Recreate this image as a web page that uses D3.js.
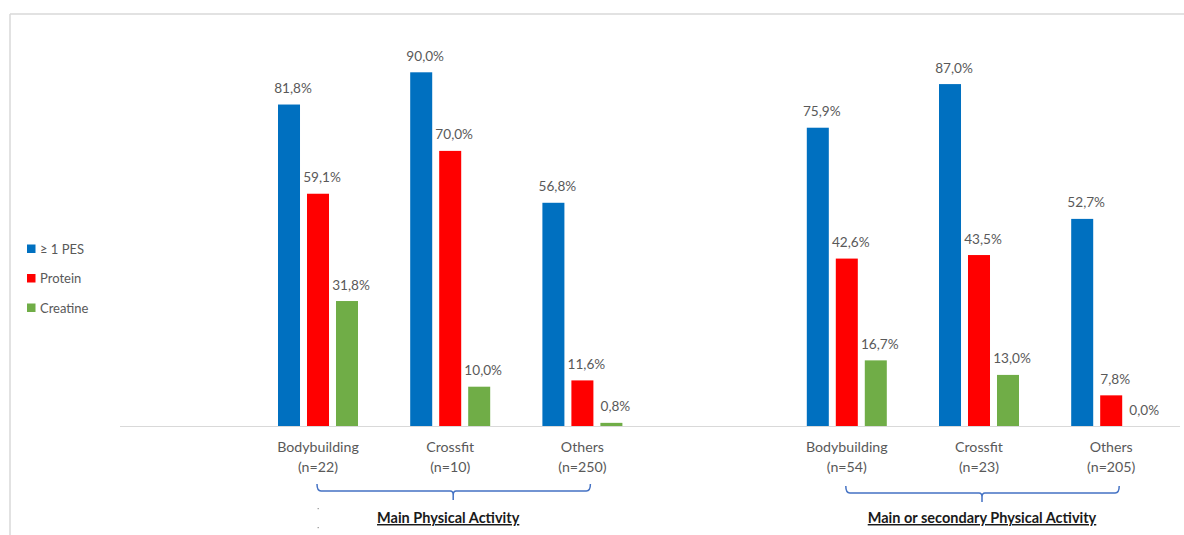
<!DOCTYPE html>
<html>
<head>
<meta charset="utf-8">
<script src="https://cdn.jsdelivr.net/npm/d3@7"></script>
<style>
  html, body { margin: 0; padding: 0; background: #ffffff; }
  svg { display: block; }
  text { font-family: Lato, "Open Sans", sans-serif; }
</style>
</head>
<body>
<svg id="chart" width="1184" height="535"></svg>
<script>
// ---- data ----
const groups = ["Main Physical Activity", "Main or secondary Physical Activity"];
const categories = ["Bodybuilding", "Crossfit", "Others"];
const sampleSizes = [[22, 10, 250], [54, 23, 205]];
const series = ["≥ 1 PES", "Protein", "Creatine"];
const pesValues = [81.8, 90.0, 56.8, 75.9, 87.0, 52.7];
const proteinValues = [59.1, 70.0, 11.6, 42.6, 43.5, 7.8];
const creatineValues = [31.8, 10.0, 0.8, 16.7, 13.0, 0.0];
const colors = ["#0070c0", "#ff0000", "#70ad47"];

const seriesValues = [pesValues, proteinValues, creatineValues];

// slots: a blank slot before each group, then its three categories
const slots = [];
const rows = [];
groups.forEach((g, gi) => {
  slots.push("blank" + gi);
  categories.forEach((c, ci) => {
    const key = gi + "-" + ci;
    slots.push(key);
    rows.push({ key, group: gi, cat: c, n: sampleSizes[gi][ci], idx: gi * 3 + ci });
  });
});

const svg = d3.select("#chart");

// frame lines
svg.append("line").attr("x1", 10).attr("x2", 1184).attr("y1", 14).attr("y2", 14)
  .attr("stroke", "#d9d9d9").attr("stroke-width", 1.5);
svg.append("line").attr("x1", 10).attr("x2", 10).attr("y1", 14).attr("y2", 535)
  .attr("stroke", "#d9d9d9").attr("stroke-width", 1.5);

const x = d3.scaleBand().domain(slots).range([120, 1177.6]).padding(0);
const xs = d3.scaleBand().domain(series).range([25.8, 105.8]).paddingInner(0.241).paddingOuter(0);
const y = d3.scaleLinear().domain([0, 100]).range([426, 33]);

// bars
const gCat = svg.selectAll("g.cat").data(rows).join("g")
  .attr("class", "cat")
  .attr("transform", d => `translate(${x(d.key)},0)`);

series.forEach((s, si) => {
  gCat.append("rect")
    .attr("x", xs(s))
    .attr("width", xs.bandwidth())
    .attr("y", d => y(seriesValues[si][d.idx]))
    .attr("height", d => y(0) - y(seriesValues[si][d.idx]))
    .attr("fill", colors[si]);
  gCat.append("text")
    .attr("x", xs(s) + xs.bandwidth() / 2 + 4)
    .attr("y", d => y(seriesValues[si][d.idx]) - 11.5)
    .attr("text-anchor", "middle")
    .attr("font-size", 13.6)
    .attr("fill", "#595959")
    .text(d => seriesValues[si][d.idx].toFixed(1).replace(".", ",") + "%");
});

// baseline axis
const xAxis = d3.axisBottom(x).tickSize(0).tickFormat("");
const axG = svg.append("g").attr("transform", `translate(0,${y(0)})`).call(xAxis);
axG.select(".domain").attr("stroke", "#d9d9d9").attr("stroke-width", 1.2)
  .attr("d", `M120,0.5H1180`);

// category labels (centred on the middle bar)
const labelX = xs(series[1]) + xs.bandwidth() / 2;
gCat.append("text")
  .attr("x", labelX)
  .attr("y", 451.5)
  .attr("text-anchor", "middle")
  .attr("font-size", 14.2)
  .attr("fill", "#595959")
  .text(d => d.cat);
gCat.append("text")
  .attr("x", labelX)
  .attr("y", 471.5)
  .attr("text-anchor", "middle")
  .attr("font-size", 14.2)
  .attr("fill", "#595959")
  .text(d => `(n=${d.n})`);

// brackets and group titles
const bracketY = [491, 493];
groups.forEach((g, gi) => {
  const first = x(gi + "-0") + labelX - 1;
  const last = x(gi + "-2") + labelX + 8;
  const mid = x(gi + "-1") + labelX + 3;
  const by = bracketY[gi];
  const path = `M${first},${by - 7} Q${first},${by} ${first + 4},${by} L${mid - 3},${by} Q${mid},${by} ${mid},${by + 4} L${mid},${by + 9} M${mid},${by + 4} Q${mid},${by} ${mid + 3},${by} L${last - 4},${by} Q${last},${by} ${last},${by - 7}`;
  svg.append("path").attr("d", path).attr("fill", "none")
    .attr("stroke", "#4472c4").attr("stroke-width", 1.5);
  svg.append("text")
    .attr("x", mid - 5 + gi * 5)
    .attr("y", 523)
    .attr("text-anchor", "middle")
    .attr("font-size", 14.5)
    .attr("font-weight", "bold")
    .attr("fill", "#1a1a1a")
    .attr("text-decoration", "underline")
    .text(g);
});

// small stray marks under the left bracket
[508, 527].forEach(yy => {
  svg.append("rect").attr("x", 317.5).attr("y", yy).attr("width", 1.5).attr("height", 1.2)
    .attr("fill", "#a6a6a6");
});

// legend
const leg = svg.append("g").attr("transform", "translate(27,249)");
series.forEach((s, si) => {
  const r = leg.append("g").attr("transform", `translate(0,${si * 29.5})`);
  r.append("rect").attr("x", 0).attr("y", -4.5).attr("width", 8.5).attr("height", 8.5).attr("fill", colors[si]);
  r.append("text").attr("x", 13).attr("y", 4.5).attr("font-size", 13).attr("fill", "#595959").text(s);
});
</script>
</body>
</html>
